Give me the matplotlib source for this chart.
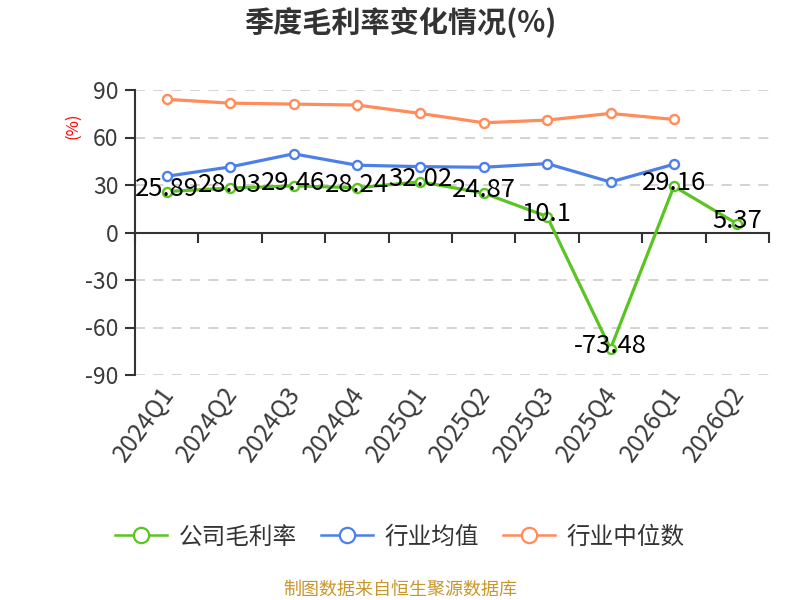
import matplotlib
matplotlib.use("Agg")
import matplotlib.pyplot as plt
import matplotlib.transforms as mtransforms
from matplotlib.lines import Line2D
import numpy as np

plt.rcParams["font.family"] = ["Noto Sans CJK SC", "DejaVu Sans"]
plt.rcParams["axes.unicode_minus"] = False

# data
quarters = ["2024Q1", "2024Q2", "2024Q3", "2024Q4", "2025Q1",
            "2025Q2", "2025Q3", "2025Q4", "2026Q1", "2026Q2"]
company = [25.89, 28.03, 29.46, 28.24, 32.02, 24.87, 10.1, -73.48, 29.16, 5.37]
industry_avg = [35.5, 41.4, 49.7, 42.5, 41.6, 41.2, 43.5, 31.9, 43.1]
industry_median = [84.1, 81.7, 81.1, 80.5, 75.2, 69.3, 71.0, 75.2, 71.4]
y_ticks = [-90, -60, -30, 0, 30, 60, 90]

series_names = ["公司毛利率", "行业均值", "行业中位数"]
colors = {"公司毛利率": "#5AC421", "行业均值": "#4D80E6", "行业中位数": "#FF8C5A"}

fig = plt.figure(figsize=(8, 6), dpi=100)
ax = fig.add_axes([0.16875, 0.375, 0.7925, 0.475])

x = np.arange(len(quarters))
series = {
    "公司毛利率": company,
    "行业均值": industry_avg,
    "行业中位数": industry_median,
}
for k, name in enumerate(series_names):
    vals = series[name]
    ax.plot(x[:len(vals)], vals, color=colors[name], lw=2.3,
            marker="o", ms=6.5, mfc="white", mec=colors[name], mew=1.7,
            zorder=3 + k, solid_capstyle="round")

for i, v in enumerate(company):
    ax.annotate(f"{v:g}", (x[i], v), xytext=(0, 3), textcoords="offset pixels",
                ha="center", va="center", fontsize=18.5, color="black", zorder=10)

ax.set_xlim(-0.5, len(quarters) - 0.5)
ax.set_ylim(-90, 90)

# axes styling
for s in ["top", "right"]:
    ax.spines[s].set_visible(False)
ax.spines["left"].set_color("#333333")
ax.spines["left"].set_linewidth(1.5)
ax.spines["bottom"].set_position(("data", 0))
ax.spines["bottom"].set_color("#333333")
ax.spines["bottom"].set_linewidth(1.5)
ax.spines["bottom"].set_zorder(2)

ax.set_yticks(y_ticks)
ax.set_yticklabels([str(t) for t in y_ticks])
ax.tick_params(axis="y", length=7, width=1.5, color="#333333", pad=5,
               labelsize=16.5, labelcolor="#3a3a3a")
for t in y_ticks:
    if t != 0:
        ax.axhline(t, color="#CCCCCC", lw=1.2, ls=(0, (6, 5)), zorder=1)

ax.set_xticks(np.arange(len(quarters) + 1) - 0.5)
ax.set_xticklabels([])
ax.tick_params(axis="x", direction="out", length=7, width=1.5, color="#333333")

trans = mtransforms.blended_transform_factory(ax.transData, ax.transAxes)
for i, q in enumerate(quarters):
    ax.text(x[i] + 0.04, -0.05, q, transform=trans, rotation=54,
            rotation_mode="anchor", ha="right", va="center",
            fontsize=17.5, color="#3a3a3a")

fig.text(73 / 800, 1 - 126 / 600, "(%)", rotation=90, color="red",
         fontsize=12, ha="center", va="center")

fig.text(0.5, 1 - 22 / 600, "季度毛利率变化情况(%)", ha="center", va="center",
         fontsize=21, fontweight="bold", color="#333333")

handles = [Line2D([0], [0], color=colors[n], lw=1.8, marker="o", ms=11,
                  mfc="white", mec=colors[n], mew=1.6) for n in series_names]
fig.legend(handles, series_names, loc="center", bbox_to_anchor=(0.5, 1 - 537 / 600),
           ncol=3, frameon=False, fontsize=17, handlelength=2.2,
           handletextpad=0.5, columnspacing=1.0, labelcolor="#333333")

fig.text(0.5, 1 - 590 / 600, "制图数据来自恒生聚源数据库", ha="center", va="center",
         fontsize=13, color="#C9962E")

fig.savefig("out.png", dpi=100)
